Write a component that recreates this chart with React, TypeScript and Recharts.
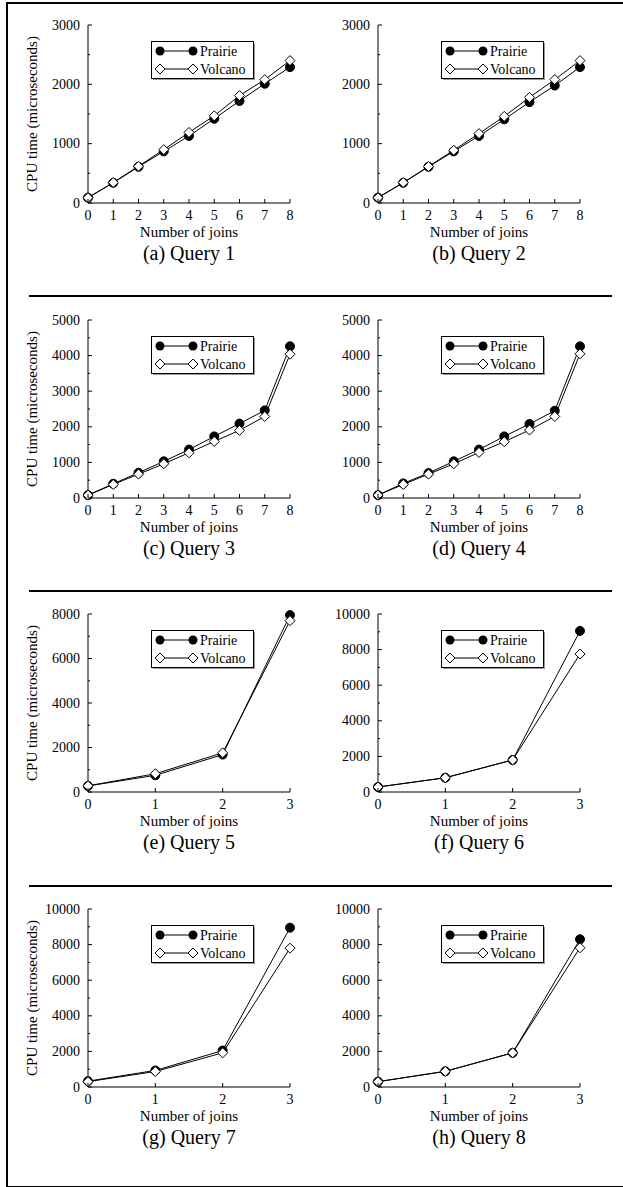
import React from 'react';
import { LineChart, Line, XAxis, YAxis, Legend } from 'recharts';

// ---------- data ----------
const joinsLong = [0, 1, 2, 3, 4, 5, 6, 7, 8];
const joinsShort = [0, 1, 2, 3];

const q1Prairie = [90, 340, 610, 870, 1130, 1420, 1720, 2010, 2290];
const q1Volcano = [90, 345, 620, 900, 1190, 1470, 1810, 2080, 2400];
const q2Prairie = [90, 340, 610, 870, 1130, 1410, 1700, 1980, 2290];
const q2Volcano = [90, 345, 615, 890, 1170, 1460, 1780, 2080, 2400];
const q3Prairie = [80, 400, 710, 1030, 1360, 1730, 2090, 2460, 4260];
const q3Volcano = [80, 380, 670, 960, 1270, 1590, 1900, 2290, 4040];
const q4Prairie = [80, 410, 700, 1030, 1360, 1730, 2080, 2450, 4260];
const q4Volcano = [80, 380, 670, 960, 1280, 1580, 1910, 2290, 4050];
const q5Prairie = [270, 750, 1680, 7950];
const q5Volcano = [280, 820, 1760, 7700];
const q6Prairie = [280, 800, 1800, 9050];
const q6Volcano = [280, 800, 1800, 7750];
const q7Prairie = [330, 930, 2050, 8950];
const q7Volcano = [300, 870, 1920, 7800];
const q8Prairie = [300, 880, 1920, 8300];
const q8Volcano = [300, 880, 1920, 7820];

const ticks3000 = [0, 1000, 2000, 3000];
const ticks5000 = [0, 1000, 2000, 3000, 4000, 5000];
const ticks8000 = [0, 2000, 4000, 6000, 8000];
const ticks10000 = [0, 2000, 4000, 6000, 8000, 10000];
const minor3000 = [0, 500, 1000, 1500, 2000, 2500, 3000];
const minor5000 = [0, 500, 1000, 1500, 2000, 2500, 3000, 3500, 4000, 4500, 5000];
const minor8000 = [0, 1000, 2000, 3000, 4000, 5000, 6000, 7000, 8000];
const minor10000 = [0, 1000, 2000, 3000, 4000, 5000, 6000, 7000, 8000, 9000, 10000];

const captions = ['(a) Query 1', '(b) Query 2', '(c) Query 3', '(d) Query 4', '(e) Query 5', '(f) Query 6', '(g) Query 7', '(h) Query 8'];
const seriesNames = ['Prairie', 'Volcano'];
const xAxisTitle = 'Number of joins';
const yAxisTitle = 'CPU time (microseconds)';

const panels = [
  { joins: joinsLong, prairie: q1Prairie, volcano: q1Volcano, yTicks: ticks3000, yMinor: minor3000 },
  { joins: joinsLong, prairie: q2Prairie, volcano: q2Volcano, yTicks: ticks3000, yMinor: minor3000 },
  { joins: joinsLong, prairie: q3Prairie, volcano: q3Volcano, yTicks: ticks5000, yMinor: minor5000 },
  { joins: joinsLong, prairie: q4Prairie, volcano: q4Volcano, yTicks: ticks5000, yMinor: minor5000 },
  { joins: joinsShort, prairie: q5Prairie, volcano: q5Volcano, yTicks: ticks8000, yMinor: minor8000 },
  { joins: joinsShort, prairie: q6Prairie, volcano: q6Volcano, yTicks: ticks10000, yMinor: minor10000 },
  { joins: joinsShort, prairie: q7Prairie, volcano: q7Volcano, yTicks: ticks10000, yMinor: minor10000 },
  { joins: joinsShort, prairie: q8Prairie, volcano: q8Volcano, yTicks: ticks10000, yMinor: minor10000 },
];

// ---------- layout ----------
const FONT = "'Liberation Serif', 'Times New Roman', Times, serif";
const COL_LEFT = [88, 378];
const ROW_TOP = [25, 320, 614, 909];
const PW = 202; // plot width
const PH = 178; // plot height
const YW = 88; // left axis area
const MT = 25;
const MR = 6;
const XH = 66;
const TICK_FS = 14;
const TITLE_FS = 15;
const CAPTION_FS = 20;
const txt = { fontFamily: FONT };

const Diamond = (props: any) => {
  const { cx, cy } = props;
  if (cx == null || cy == null) return null;
  const s = 5;
  return (
    <path
      d={`M${cx},${cy - s}L${cx + s},${cy}L${cx},${cy + s}L${cx - s},${cy}Z`}
      fill="#fff"
      stroke="#000"
      strokeWidth={1}
    />
  );
};

const Dot = (props: any) => {
  const { cx, cy } = props;
  if (cx == null || cy == null) return null;
  return <circle cx={cx} cy={cy} r={4.5} fill="#000" stroke="#000" />;
};

const LegendBox = () => {
  const w = 102;
  const h = 37;
  return (
    <svg width={w + 3} height={h + 3} style={{ display: 'block', overflow: 'visible' }}>
      <rect x={2} y={2} width={w} height={h} fill="#999" />
      <rect x={0.5} y={0.5} width={w} height={h} fill="#fff" stroke="#000" strokeWidth={1} />
      <line x1={9} y1={10} x2={42} y2={10} stroke="#000" />
      <circle cx={9} cy={10} r={4.5} fill="#000" />
      <circle cx={42} cy={10} r={4.5} fill="#000" />
      <text x={49} y={10} dominantBaseline="central" style={txt} fontSize={14} fill="#000">
        {seriesNames[0]}
      </text>
      <line x1={9} y1={28} x2={42} y2={28} stroke="#000" />
      <Diamond cx={9} cy={28} />
      <Diamond cx={42} cy={28} />
      <text x={49} y={28} dominantBaseline="central" style={txt} fontSize={14} fill="#000">
        {seriesNames[1]}
      </text>
    </svg>
  );
};

function Panel({ index }: { index: number }) {
  const p = panels[index];
  const col = index % 2;
  const row = Math.floor(index / 2);
  const plotLeft = COL_LEFT[col];
  const plotTop = ROW_TOP[row];
  const data = p.joins.map((j, i) => ({ x: j, prairie: p.prairie[i], volcano: p.volcano[i] }));
  const xMax = p.joins[p.joins.length - 1];
  const yMax = p.yTicks[p.yTicks.length - 1];
  const showYTitle = col === 0;

  const bottomTick = (props: any) => {
    const { x, y, payload } = props;
    return (
      <g>
        <line x1={x} y1={y} x2={x} y2={y - 4} stroke="#000" />
        <text x={x} y={y + 12} textAnchor="middle" dominantBaseline="central" style={txt} fontSize={TICK_FS} fill="#000">
          {payload.value}
        </text>
      </g>
    );
  };
  const topTick = (props: any) => {
    const { x, y } = props;
    return <line x1={x} y1={y} x2={x} y2={y + 4} stroke="#000" />;
  };
  const leftTick = (props: any) => {
    const { x, y, payload } = props;
    const major = p.yTicks.includes(payload.value);
    return (
      <g>
        <line x1={x} y1={y} x2={x + (major ? 4 : 2)} y2={y} stroke="#000" />
        {major ? (
          <text x={x - 8} y={y} textAnchor="end" dominantBaseline="central" style={txt} fontSize={TICK_FS} fill="#000">
            {payload.value}
          </text>
        ) : null}
      </g>
    );
  };
  const rightTick = (props: any) => {
    const { x, y, payload } = props;
    const major = p.yTicks.includes(payload.value);
    return <line x1={x} y1={y} x2={x - (major ? 4 : 2)} y2={y} stroke="#000" />;
  };

  const xLabel = () => (
    <g>
      <text x={YW + PW / 2} y={MT + PH + 29} textAnchor="middle" dominantBaseline="central" style={txt} fontSize={TITLE_FS} fill="#000">
        {xAxisTitle}
      </text>
      <text x={YW + PW / 2} y={MT + PH + 50} textAnchor="middle" dominantBaseline="central" style={txt} fontSize={CAPTION_FS} fill="#000">
        {captions[index]}
      </text>
    </g>
  );
  const yLabel = () =>
    showYTitle ? (
      <text
        x={32}
        y={MT + PH / 2}
        transform={`rotate(-90 32 ${MT + PH / 2})`}
        textAnchor="middle"
        dominantBaseline="central"
        style={txt}
        fontSize={TITLE_FS}
        fill="#000"
      >
        {yAxisTitle}
      </text>
    ) : null;

  return (
    <div style={{ position: 'absolute', left: plotLeft - YW, top: plotTop - MT }}>
      <LineChart
        width={YW + PW + MR}
        height={MT + PH + XH}
        data={data}
        margin={{ top: MT, right: MR, bottom: 0, left: 0 }}
        style={{ overflow: 'visible' }}
      >
        <XAxis
          xAxisId="b"
          dataKey="x"
          type="number"
          domain={[0, xMax]}
          ticks={p.joins}
          interval={0}
          height={XH}
          tickSize={0}
          tickMargin={0}
          tickLine={false}
          axisLine={{ stroke: '#000' }}
          tick={bottomTick}
          label={{ content: xLabel }}
        />
        <XAxis
          xAxisId="t"
          orientation="top"
          dataKey="x"
          type="number"
          domain={[0, xMax]}
          ticks={p.joins}
          interval={0}
          allowDataOverflow
          height={0}
          tickSize={0}
          tickMargin={0}
          tickLine={false}
          axisLine={{ stroke: '#000' }}
          tick={topTick}
        />
        <YAxis
          yAxisId="l"
          type="number"
          domain={[0, yMax]}
          ticks={p.yMinor}
          interval={0}
          width={YW}
          tickSize={0}
          tickMargin={0}
          tickLine={false}
          axisLine={{ stroke: '#000' }}
          tick={leftTick}
          label={{ content: yLabel }}
        />
        <YAxis
          yAxisId="r"
          orientation="right"
          type="number"
          domain={[0, yMax]}
          ticks={p.yMinor}
          interval={0}
          allowDataOverflow
          width={0}
          tickSize={0}
          tickMargin={0}
          tickLine={false}
          axisLine={{ stroke: '#000' }}
          tick={rightTick}
        />
        <Line
          xAxisId="b"
          yAxisId="l"
          dataKey="prairie"
          name={seriesNames[0]}
          stroke="#000"
          strokeWidth={1}
          dot={<Dot />}
          activeDot={false}
          isAnimationActive={false}
        />
        <Line
          xAxisId="b"
          yAxisId="l"
          dataKey="volcano"
          name={seriesNames[1]}
          stroke="#000"
          strokeWidth={1}
          dot={<Diamond />}
          activeDot={false}
          isAnimationActive={false}
        />
        <Legend
          layout="horizontal"
          align="center"
          verticalAlign="middle"
          content={<LegendBox />}
          wrapperStyle={{ position: 'absolute', left: YW + 63, top: MT + 16, width: 106, height: 41, right: 'auto', bottom: 'auto' }}
        />
      </LineChart>
    </div>
  );
}

export default function App() {
  return (
    <div style={{ position: 'absolute', left: 0, top: 0, width: 623, height: 1187, background: '#fff', overflow: 'hidden', fontFamily: FONT }}>
      <div style={{ position: 'absolute', left: 6, top: 2, width: 617, height: 1182, borderLeft: '2px solid #000', borderTop: '2px solid #000', borderBottom: '2px solid #000' }} />
      {[295, 590, 885].map((y) => (
        <div key={y} style={{ position: 'absolute', left: 29, top: y, width: 583, height: 2, background: '#000' }} />
      ))}
      {panels.map((_, i) => (
        <Panel key={i} index={i} />
      ))}
    </div>
  );
}
